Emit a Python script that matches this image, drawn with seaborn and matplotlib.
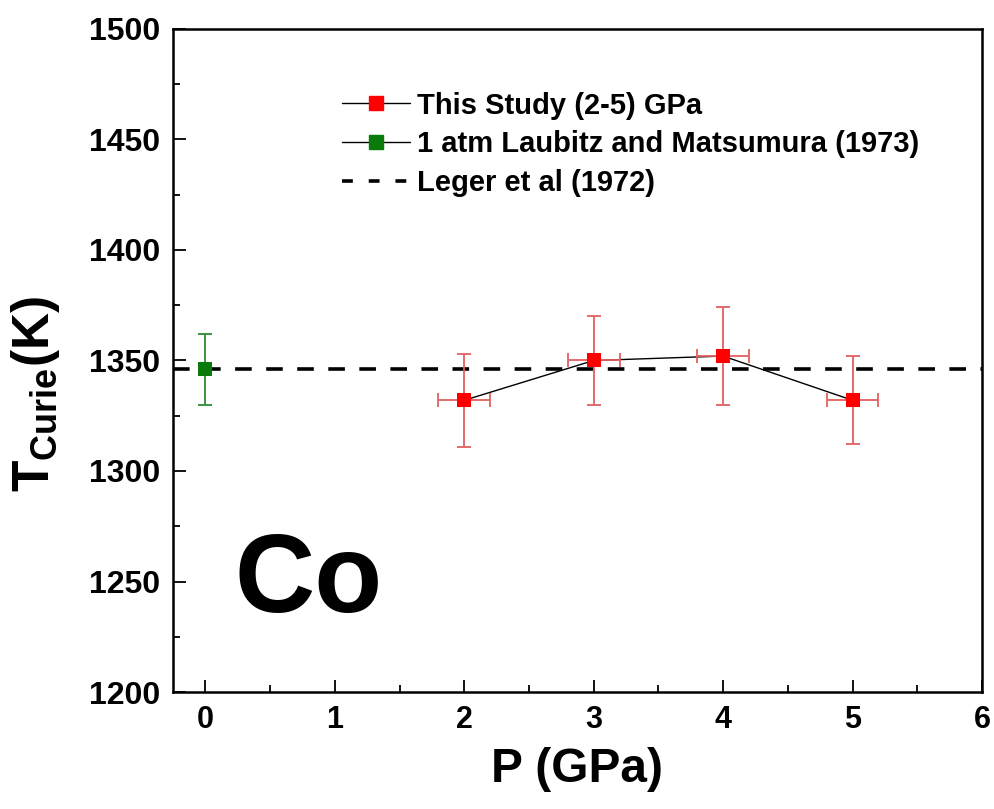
import matplotlib
matplotlib.use("Agg")
import matplotlib.pyplot as plt
from matplotlib.lines import Line2D
import seaborn as sns
import pandas as pd

# Curie temperature of Co versus pressure
study_p = [2, 3, 4, 5]
study_t = [1332, 1350, 1352, 1332]
study_t_err = [21, 20, 22, 20]
study_p_err = [0.2, 0.2, 0.2, 0.2]

atm_p = [0]
atm_t = [1346]
atm_t_err = [16]

leger_t = 1346

label_study = "This Study (2-5) GPa"
label_atm = "1 atm Laubitz and Matsumura (1973)"
label_leger = "Leger et al (1972)"

x_ticks = [0, 1, 2, 3, 4, 5, 6]
y_ticks = [1200, 1250, 1300, 1350, 1400, 1450, 1500]

sns.set_style("ticks")
fam = ["Liberation Sans", "DejaVu Sans"]
plt.rcParams["font.family"] = fam
plt.rcParams["text.color"] = "black"
plt.rcParams["axes.labelcolor"] = "black"
plt.rcParams["xtick.color"] = "black"
plt.rcParams["ytick.color"] = "black"
plt.rcParams["mathtext.fontset"] = "custom"
plt.rcParams["mathtext.rm"] = "Liberation Sans:bold"
plt.rcParams["mathtext.it"] = "Liberation Sans:bold"
plt.rcParams["mathtext.bf"] = "Liberation Sans:bold"

fig = plt.figure(figsize=(9.95, 8.09), dpi=100)
ax = fig.add_axes([0.1739, 0.1446, 0.8130, 0.8196])

red = "#ff0000"
red_err = "#e06060"
green = "#0a7a0a"
green_err = "#2e8b2e"

# reference line
ax.axhline(leger_t, color="black", lw=2.6, linestyle=(0, (4.6, 4.0)),
           dash_capstyle="butt", zorder=2)

df_study = pd.DataFrame({"P": study_p, "T": study_t})
df_atm = pd.DataFrame({"P": atm_p, "T": atm_t})

# connecting line for this study
sns.lineplot(data=df_study, x="P", y="T", color="black", lw=1.0,
             ax=ax, zorder=3, legend=False)

# error bars
ax.errorbar(study_p, study_t, yerr=study_t_err, xerr=study_p_err, fmt="none",
            ecolor=red_err, elinewidth=1.3, capsize=4.8, capthick=1.3, zorder=4)
ax.errorbar(atm_p, atm_t, yerr=atm_t_err, fmt="none",
            ecolor=green_err, elinewidth=1.3, capsize=5.2, capthick=1.3, zorder=4)

# markers
sns.scatterplot(data=df_study, x="P", y="T", marker="s", s=105, color=red,
                edgecolor=red, linewidth=0, ax=ax, zorder=5, legend=False)
sns.scatterplot(data=df_atm, x="P", y="T", marker="s", s=115, color=green,
                edgecolor=green, linewidth=0, ax=ax, zorder=5, legend=False)

ax.set_xlim(-0.25, 6)
ax.set_ylim(1200, 1500)
ax.set_xticks(x_ticks)
ax.set_yticks(y_ticks)
ax.set_xticks([0.5, 1.5, 2.5, 3.5, 4.5, 5.5], minor=True)
ax.set_yticks([1225, 1275, 1325, 1375, 1425, 1475], minor=True)

for s in ax.spines.values():
    s.set_linewidth(1.8)
    s.set_color("black")

ax.tick_params(which="major", direction="in", length=9, width=1.3,
               top=False, right=False, pad=9)
ax.tick_params(which="minor", direction="in", length=5, width=1.3,
               top=False, right=False)

for lab in ax.get_yticklabels():
    lab.set_fontsize(23)
    lab.set_fontweight("bold")
for lab in ax.get_xticklabels():
    lab.set_fontsize(22)
    lab.set_fontweight("bold")

ax.set_xlabel("P (GPa)", fontsize=34.5, fontweight="bold", labelpad=9)
ax.set_ylabel(r"T$_{\mathrm{Curie}}$(K)", fontsize=37, fontweight="bold")
ax.yaxis.set_label_coords(-0.137, 0.45)

ax.text(0.076, 0.12, "Co", transform=ax.transAxes, fontsize=80,
        fontweight="bold", ha="left", va="baseline")

handles = [
    Line2D([], [], color="black", lw=1.0, marker="s", markersize=9.5,
           markerfacecolor=red, markeredgecolor=red),
    Line2D([], [], color="black", lw=1.0, marker="s", markersize=9.5,
           markerfacecolor=green, markeredgecolor=green),
    Line2D([], [], color="black", lw=2.6, linestyle=(0, (3.0, 4.4)),
           dash_capstyle="butt"),
]
leg = ax.legend(handles, [label_study, label_atm, label_leger],
                loc="upper left", bbox_to_anchor=(0.194, 0.923), frameon=False,
                prop={"weight": "bold", "size": 21},
                handlelength=2.33, handletextpad=0.24, labelspacing=0.37,
                borderaxespad=0)

fig.savefig("out.png", dpi=100)
